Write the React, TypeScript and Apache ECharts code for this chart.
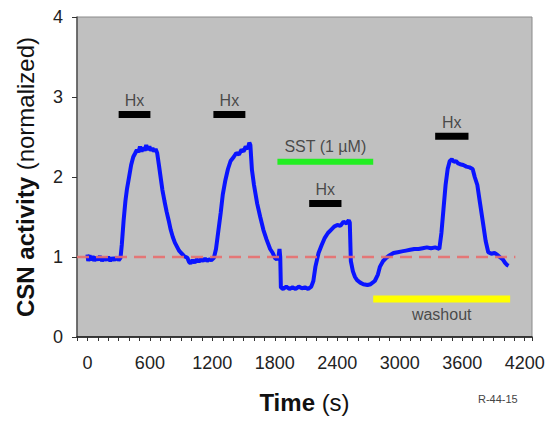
import React, { useEffect, useRef } from "react";
import * as echarts from "echarts";

const FONT = "'Liberation Sans', Arial, Helvetica, sans-serif";

const xTickLabels = [0, 600, 1200, 1800, 2400, 3000, 3600, 4200];
const yTickLabels = [0, 1, 2, 3, 4];

// CSN activity trace [time (s), normalized activity]
const trace: [number, number][] = [
  [0, 1.03], [8, 0.95], [20, 1.02], [35, 0.96], [50, 1.01], [65, 0.95], [80, 1.0], [100, 0.96],
  [120, 1.01], [140, 0.95], [160, 0.99], [180, 0.96], [200, 1.0], [220, 0.95], [240, 0.99],
  [260, 0.96], [280, 1.0], [300, 0.96], [318, 0.99],
  [330, 1.15], [348, 1.46], [365, 1.7], [380, 1.85], [395, 1.96], [420, 2.15], [440, 2.25],
  [460, 2.3], [475, 2.34], [490, 2.31], [505, 2.38], [520, 2.32], [535, 2.37], [550, 2.33],
  [565, 2.4], [580, 2.34], [595, 2.38], [610, 2.33], [625, 2.36], [640, 2.32], [655, 2.35],
  [670, 2.3], [690, 2.12], [705, 1.98], [720, 1.84], [740, 1.7], [760, 1.57], [780, 1.46],
  [800, 1.34], [820, 1.25], [840, 1.18], [860, 1.13], [880, 1.08], [900, 1.05], [930, 1.01],
  [960, 0.99], [975, 0.94], [990, 0.92], [1010, 0.96], [1030, 0.93], [1050, 0.97], [1070, 0.94],
  [1090, 0.97], [1110, 0.95], [1130, 0.98], [1150, 0.95], [1170, 0.97], [1190, 0.96], [1215, 0.99],
  [1235, 1.1], [1255, 1.3], [1280, 1.55], [1300, 1.78], [1325, 1.96], [1350, 2.1], [1375, 2.2],
  [1405, 2.25], [1430, 2.3], [1455, 2.28], [1480, 2.34], [1500, 2.32], [1520, 2.38], [1540, 2.35],
  [1555, 2.43], [1565, 2.4], [1580, 2.09], [1600, 1.9], [1630, 1.67], [1660, 1.5], [1690, 1.34],
  [1720, 1.22], [1755, 1.1], [1780, 1.05], [1800, 0.99], [1820, 0.97], [1835, 1.0], [1845, 1.1],
  [1852, 1.0], [1858, 0.62], [1880, 0.6], [1910, 0.63], [1940, 0.6], [1970, 0.62], [2000, 0.6],
  [2030, 0.63], [2060, 0.61], [2090, 0.62], [2120, 0.6], [2150, 0.63], [2170, 0.7],
  [2190, 0.88], [2220, 1.05], [2250, 1.15], [2280, 1.24], [2310, 1.3], [2340, 1.34], [2370, 1.38],
  [2400, 1.4], [2430, 1.39], [2460, 1.44], [2490, 1.42], [2510, 1.46], [2520, 1.43],
  [2530, 0.95], [2550, 0.82], [2570, 0.75], [2590, 0.71], [2620, 0.68], [2650, 0.66], [2690, 0.65],
  [2720, 0.66], [2760, 0.7], [2790, 0.78], [2810, 0.88], [2840, 0.95], [2870, 0.99], [2900, 1.02],
  [2940, 1.05], [2980, 1.06], [3020, 1.07], [3060, 1.08], [3100, 1.09], [3140, 1.1], [3180, 1.1],
  [3220, 1.11], [3260, 1.12], [3300, 1.11], [3340, 1.12], [3380, 1.1],
  [3400, 1.3], [3420, 1.6], [3440, 1.9], [3460, 2.1], [3480, 2.2], [3500, 2.22], [3520, 2.19],
  [3540, 2.2], [3560, 2.17], [3580, 2.16], [3610, 2.15], [3640, 2.13], [3670, 2.12], [3700, 2.1],
  [3720, 2.0], [3745, 1.9], [3770, 1.68], [3800, 1.42], [3825, 1.2], [3850, 1.06], [3880, 1.04],
  [3910, 1.05], [3935, 1.03], [3960, 1.0], [3990, 0.97], [4010, 0.93], [4030, 0.9], [4045, 0.89],
];

// Reference (baseline) level
const baseline: [number, number][] = [[-100, 1], [4110, 1]];

// Hypoxia bars: [start, end, level]
const hxBars: [number, number, number][] = [
  [300, 605, 2.78],
  [1210, 1517, 2.78],
  [2130, 2440, 1.67],
  [3340, 3660, 2.51],
];
const sstBar: [number, number, number] = [1825, 2745, 2.19];
const washoutBar: [number, number, number] = [2745, 4060, 0.475];

const hxLabel = "Hx";
const sstLabel = "SST (1 µM)";
const washoutLabel = "washout";

function barSeries(bar: [number, number, number], color: string, width: number) {
  return {
    type: "line",
    data: [[bar[0], bar[2]], [bar[1], bar[2]]],
    showSymbol: false,
    symbol: "none",
    silent: true,
    lineStyle: { color, width, cap: "butt" },
    z: 4,
  };
}

function labelSeries(x: number, y: number, text: string, position: string, distance: number) {
  return {
    type: "scatter",
    data: [{ value: [x, y], name: text }],
    symbolSize: 0,
    silent: true,
    label: {
      show: true,
      formatter: "{b}",
      position,
      distance,
      fontFamily: FONT,
      fontSize: 16,
      color: "#2a2a2a",
    },
    z: 5,
  };
}

export default function App() {
  const ref = useRef<HTMLDivElement>(null);
  useEffect(() => {
    if (!ref.current) return;
    const chart = echarts.init(ref.current, null, { renderer: "svg" });
    const series: any[] = [
      {
        type: "line",
        data: trace,
        showSymbol: false,
        symbol: "none",
        lineStyle: { color: "#0a14ff", width: 4 },
        z: 2,
      },
      {
        type: "line",
        data: baseline,
        showSymbol: false,
        symbol: "none",
        lineStyle: { color: "rgba(232,110,110,0.9)", width: 2.5, type: [12, 7] },
        z: 3,
      },
    ];
    hxBars.forEach((b) => {
      series.push(barSeries(b, "#000000", 7));
      series.push(labelSeries((b[0] + b[1]) / 2, b[2], hxLabel, "top", 6));
    });
    series.push(barSeries(sstBar, "#22ee22", 6));
    series.push(labelSeries((sstBar[0] + sstBar[1]) / 2, sstBar[2], sstLabel, "top", 7));
    series.push(barSeries(washoutBar, "#ffff00", 7));
    series.push(labelSeries((washoutBar[0] + washoutBar[1]) / 2, washoutBar[2], washoutLabel, "bottom", 7));

    const nameStyle = {
      fontFamily: FONT,
      fontSize: 24,
      color: "#111",
      rich: {
        b: { fontFamily: FONT, fontSize: 24, fontWeight: "bold", color: "#111" },
        n: { fontFamily: FONT, fontSize: 24, color: "#111" },
      },
    };

    const option: any = {
      animation: false,
      grid: {
        left: 77,
        right: 24,
        top: 17,
        bottom: 84,
        show: true,
        backgroundColor: "#c0c0c0",
        borderColor: "#8a8a8a",
        borderWidth: 1,
      },
      xAxis: {
        type: "value",
        min: -100,
        max: 4270,
        interval: 100,
        axisLine: { show: true, onZero: false, lineStyle: { color: "#111", width: 1.5 } },
        axisTick: { show: true, length: 4, lineStyle: { color: "#333" } },
        axisLabel: {
          margin: 17,
          fontFamily: FONT,
          fontSize: 18,
          color: "#222",
          formatter: (v: number) => (xTickLabels.indexOf(v) >= 0 ? String(v) : ""),
        },
        splitLine: { show: false },
        name: "{b|Time} {n|(s)}",
        nameLocation: "middle",
        nameGap: 53,
        nameTextStyle: nameStyle,
      },
      yAxis: {
        type: "value",
        min: yTickLabels[0],
        max: yTickLabels[yTickLabels.length - 1],
        interval: 1,
        axisLine: { show: true, onZero: false, lineStyle: { color: "#555", width: 1.5 } },
        axisTick: { show: true, length: 5, lineStyle: { color: "#333" } },
        axisLabel: { margin: 14, fontFamily: FONT, fontSize: 18, color: "#222" },
        splitLine: { show: false },
        name: "{b|CSN activity} {n|(normalized)}",
        nameLocation: "middle",
        nameGap: 40,
        nameTextStyle: nameStyle,
      },
      graphic: [
        {
          type: "text",
          left: 478,
          top: 393,
          style: { text: "R-44-15", fontFamily: FONT, fontSize: 11, fill: "#444" },
        },
      ],
      series,
    };
    chart.setOption(option);
    return () => chart.dispose();
  }, []);
  return (
    <div
      ref={ref}
      style={{ position: "absolute", left: 0, top: 0, width: 556, height: 421 }}
    />
  );
}
